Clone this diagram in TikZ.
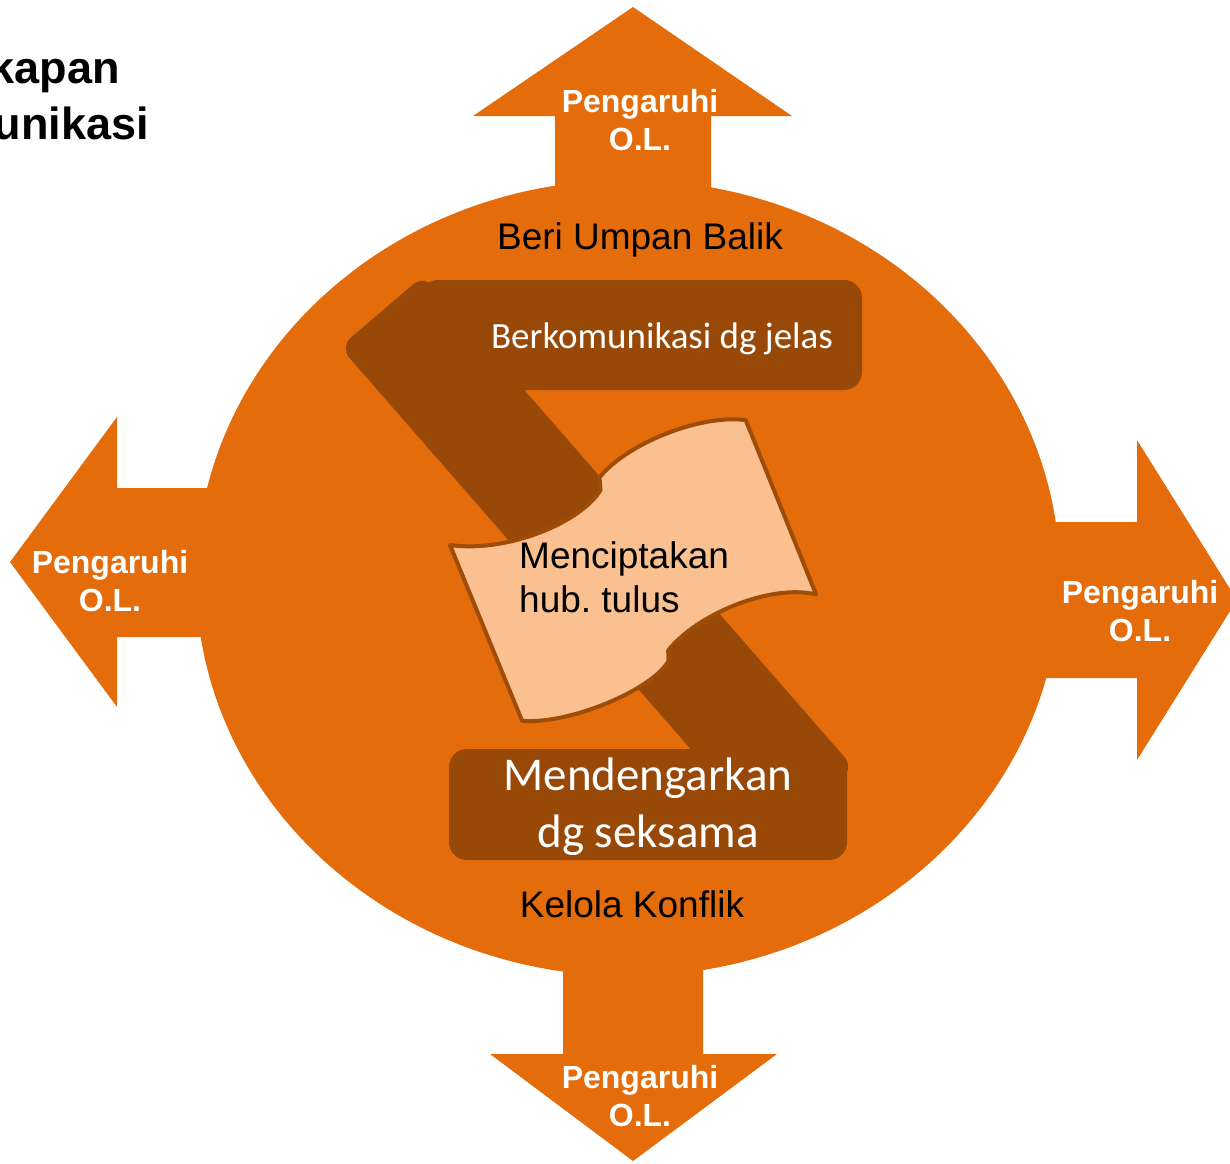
\documentclass[tikz,border=0pt]{standalone}
\usepackage{fontspec}
\setmainfont{Liberation Sans}
\newfontfamily\calibrifont{Carlito}
\definecolor{ringorange}{HTML}{E46C0A}
\definecolor{barbrown}{HTML}{984807}
\definecolor{flagpeach}{HTML}{FAC090}
\definecolor{flagedge}{HTML}{9E4C08}
\tikzset{
  ring/.style={fill=ringorange},
  barshape/.style={fill=barbrown, rounded corners=18pt},
  influence/.style={text=white, inner sep=0pt, align=center,
    font=\bfseries\fontsize{32}{38}\selectfont},
  ringlabel/.style={text=black, inner sep=0pt, font=\fontsize{37}{44}\selectfont},
  titletext/.style={text=black, inner sep=0pt, font=\bfseries\fontsize{45}{56}\selectfont}
}
\frenchspacing
\begin{document}
\begin{tikzpicture}[x=1pt, y=-1pt]
\useasboundingbox (0,0) rectangle (1230,1163);
\clip (0,0) rectangle (1230,1163);

% title, running off the left edge
\node[titletext, anchor=base east] (titleA) at (120,83) {kapan};
\node[titletext, anchor=base east] (titleB) at (149,139) {unikasi};

% orange disc with its four outward arrows
\fill[ring] (628,578) ellipse [x radius=432, y radius=398];
\fill[ring] (555,250) -- (555,116) -- (473,116) -- (633,7) -- (792,116)
  -- (711,116) -- (711,250) -- cycle;
\fill[ring] (563,900) -- (563,1054) -- (490,1054) -- (633,1161) -- (777,1054)
  -- (703,1054) -- (703,900) -- cycle;
\fill[ring] (260,488) -- (117,488) -- (117,417) -- (10,562) -- (117,707)
  -- (117,637) -- (260,637) -- cycle;
\fill[ring] (1000,522) -- (1137,522) -- (1137,440) -- (1237,600) -- (1137,760)
  -- (1137,678) -- (1000,678) -- cycle;

\node[influence, anchor=north] (upL) at (640,89) {Pengaruhi\\O.L.};
\node[influence, anchor=north] (leftL) at (110,550) {Pengaruhi\\O.L.};
\node[influence, anchor=north] (rightL) at (1140,580) {Pengaruhi\\O.L.};
\node[influence, anchor=north] (downL) at (640,1065) {Pengaruhi\\O.L.};

\node[ringlabel, anchor=base] (feedback) at (640,249) {Beri Umpan Balik};
\node[ringlabel, anchor=base] (conflict) at (632,917) {Kelola Konflik};

% diagonal band and the two bars
\fill[barbrown, rounded corners=14pt] (424,275) -- (854,768) -- (770,840) -- (340,347) -- cycle;
\fill[barshape] (420,280) rectangle (862,390);
\fill[barshape] (449,749) rectangle (847,860);

\node[text=white, inner sep=0pt, anchor=base,
  font=\calibrifont\fontsize{37}{44}\selectfont] (clear) at (662,348) {Berkomunikasi dg jelas};
\node[text=white, inner sep=0pt, anchor=north, align=center,
  font=\calibrifont\fontsize{47}{57}\selectfont] (listen) at (648,758) {Mendengarkan\\dg seksama};

% waving flag in the middle: two arcs on each long side, meeting at a small step
\begin{scope}[shift={(450,545)}, rotate=22.9]
  \filldraw[fill=flagpeach, draw=flagedge, line width=4pt, line join=round, line cap=round]
    (0,0) .. controls (50,30) and (130,30) .. (160,8)
    -- (164,-4) .. controls (200,-24) and (280,-24) .. (321,0)
    -- (318,188) .. controls (280,160) and (200,160) .. (160,182)
    -- (156,192) .. controls (130,212) and (40,212) .. (-2,190)
    -- cycle;
\end{scope}
\node[text=black, inner sep=0pt, anchor=north west, align=left,
  font=\fontsize{37}{44}\selectfont] (bond) at (519,541.5) {Menciptakan\\hub. tulus};
\end{tikzpicture}
\end{document}
